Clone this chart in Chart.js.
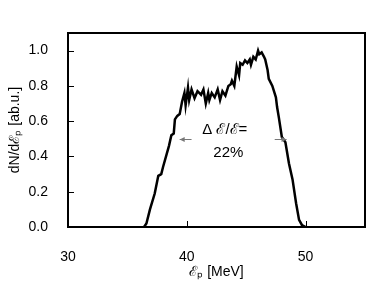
<!DOCTYPE html>
<html>
<head>
<meta charset="utf-8">
<script src="https://cdn.jsdelivr.net/npm/chart.js@4/dist/chart.umd.min.js"></script>
<style>
  html, body { margin: 0; padding: 0; background: #fff; }
  #wrap { width: 382px; height: 286px; }
</style>
</head>
<body>
<div id="wrap"><canvas id="spec"></canvas></div>
<script>
// proton energy [MeV] and spectrum
const energy = [36.4, 36.6, 36.9, 37.3, 37.6, 37.85, 38.0, 38.5, 38.7, 38.9, 39.0, 39.2, 39.4, 39.6, 39.8, 39.9,
  40.1, 40.2, 40.4, 40.65, 40.9, 41.2, 41.4, 41.6, 41.8, 41.9, 42.1, 42.35, 42.6, 42.8, 43.0, 43.25,
  43.5, 43.7, 43.8, 44.0, 44.2, 44.4, 44.5, 44.7, 44.9, 45.1, 45.3, 45.4, 45.6, 45.8, 46.0, 46.1,
  46.3, 46.5, 46.6, 46.8, 46.9, 47.2, 47.5, 47.6, 47.75, 48.0, 48.3, 48.6, 48.9, 49.2, 49.45, 49.7, 50.0];
const counts = [0.0, 0.02, 0.10, 0.19, 0.29, 0.30, 0.34, 0.46, 0.52, 0.53, 0.61, 0.63, 0.64, 0.71, 0.76, 0.69,
  0.79, 0.72, 0.78, 0.73, 0.77, 0.75, 0.78, 0.70, 0.76, 0.72, 0.76, 0.735, 0.78, 0.72, 0.77, 0.745,
  0.80, 0.81, 0.83, 0.80, 0.91, 0.86, 0.93, 0.92, 0.945, 0.93, 0.95, 0.92, 0.965, 0.95, 1.0, 0.98,
  0.99, 0.965, 0.95, 0.89, 0.84, 0.80, 0.735, 0.68, 0.62, 0.51, 0.48, 0.36, 0.27, 0.135, 0.04, 0.01, 0.0];
const xTicks = [30, 40, 50];
const yTicks = [0, 0.2, 0.4, 0.6, 0.8, 1.0];

// FWHM arrows and label (data coords)
const arrowY = 0.50;
const leftArrow = [40.4, 39.4];
const rightArrow = [47.4, 48.4];

const points = energy.map((e, i) => ({ x: e, y: counts[i] }));
const font = { family: '"Liberation Sans", Arial, sans-serif', size: 14 };

// frame (filled strips), inward ticks, FWHM note
const framePlugin = {
  id: 'frame',
  afterDraw(chart) {
    const { ctx, chartArea: a, scales: { x, y } } = chart;
    const l = Math.round(a.left), r = Math.round(a.right), t = Math.round(a.top), b = Math.round(a.bottom);
    ctx.save();
    ctx.fillStyle = '#000';
    ctx.fillRect(l - 1, t - 1, r - l + 2, 2);
    ctx.fillRect(l - 1, b - 1, r - l + 2, 2);
    ctx.fillRect(l - 1, t - 1, 2, b - t + 2);
    ctx.fillRect(r - 1, t - 1, 2, b - t + 2);

    yTicks.slice(1).forEach(v => {
      const py = Math.round(y.getPixelForValue(v));
      ctx.fillRect(l, py, 6, 1);
    });
    xTicks.slice(1).forEach(v => {
      const px = Math.round(x.getPixelForValue(v));
      ctx.fillRect(px, b - 6, 1, 6);
    });

    ctx.strokeStyle = '#777';
    ctx.fillStyle = '#777';
    ctx.lineWidth = 1;
    [leftArrow, rightArrow].forEach(([from, to]) => {
      const x0 = x.getPixelForValue(from), x1 = x.getPixelForValue(to);
      const py = Math.round(y.getPixelForValue(arrowY)) + 0.5;
      const dir = Math.sign(x1 - x0);
      ctx.beginPath(); ctx.moveTo(x0, py); ctx.lineTo(x1, py); ctx.stroke();
      ctx.beginPath();
      ctx.moveTo(x1, py); ctx.lineTo(x1 - dir * 5, py - 2.5); ctx.lineTo(x1 - dir * 5, py + 2.5);
      ctx.closePath(); ctx.fill();
    });

    ctx.fillStyle = '#000';
    ctx.font = '15px "Liberation Sans", Arial, sans-serif';
    ctx.textAlign = 'center';
    ctx.textBaseline = 'middle';
    ctx.fillText('Δ ℰ/ℰ=', x.getPixelForValue(43.2), y.getPixelForValue(0.548));
    ctx.fillText('22%', x.getPixelForValue(43.5), y.getPixelForValue(0.423));
    ctx.restore();
  }
};

new Chart(document.getElementById('spec'), {
  type: 'line',
  data: {
    datasets: [{ data: points, borderColor: '#000', borderWidth: 2.5, pointRadius: 0, tension: 0 }]
  },
  options: {
    responsive: true,
    maintainAspectRatio: false,
    animation: false,
    layout: { padding: { top: 33, right: 17 } },
    plugins: { legend: { display: false }, tooltip: { enabled: false } },
    scales: {
      x: {
        type: 'linear',
        min: 30, max: 55,
        afterBuildTicks: s => { s.ticks = xTicks.map(v => ({ value: v })); },
        afterFit: s => { s.height = 59; },
        grid: { display: false },
        ticks: { color: '#000', padding: 14, font },
        title: { display: true, text: 'ℰₚ [MeV]', color: '#000', padding: { top: 5, bottom: 5 }, font }
      },
      y: {
        min: 0, max: 1.1,
        afterBuildTicks: s => { s.ticks = yTicks.map(v => ({ value: v })); },
        afterFit: s => { s.width = 68; },
        grid: { display: false },
        ticks: { color: '#000', padding: 12, font, callback: v => v.toFixed(1) },
        title: { display: true, text: 'dN/dℰₚ [ab.u.]', color: '#000', padding: { top: 7, bottom: 7 }, font }
      }
    }
  },
  plugins: [framePlugin]
});
</script>
</body>
</html>
